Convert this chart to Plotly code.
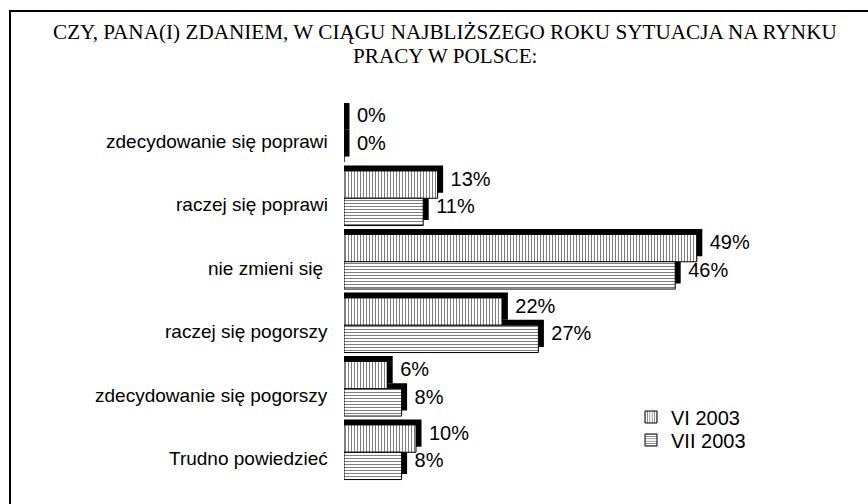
import plotly.graph_objects as go

# ---- data ----
categories = ["zdecydowanie się poprawi", "raczej się poprawi", "nie zmieni się\u00a0",
              "raczej się pogorszy", "zdecydowanie się pogorszy", "Trudno powiedzieć"]
vi_2003 = [0, 13, 49, 22, 6, 10]
vii_2003 = [0, 11, 46, 27, 8, 8]
series_names = ["VI 2003", "VII 2003"]
title_lines = ["CZY, PANA(I) ZDANIEM, W CIĄGU NAJBLIŻSZEGO ROKU SYTUACJA NA RYNKU",
               "PRACY W POLSCE:"]

# ---- geometry (pixels) ----
W, H = 868, 504
L, R, T, B = 344, 44, 103, 20
plot_w = W - L - R
plot_h = H - T - B
px_per_pct = 7.2
xmax = plot_w / px_per_pct
n = len(categories)
px_per_cat = plot_h / n


def px_x(px):
    return (px - L) / plot_w


def px_y(py):
    return (H - B - py) / plot_h


bar_w = 0.43
off = 0.215
dx = 5.5 / px_per_pct
dy = 5.5 / px_per_cat

SANS = "Liberation Sans, Arial, sans-serif"
SERIF = "Liberation Serif, Times New Roman, serif"

pos = list(range(n))
series = [vi_2003, vii_2003]
offsets = [-off, off]
shapes_pat = ["|", "-"]
legend_ids = ["legend", "legend2"]

fig = go.Figure()

# 3D shadows
for vals, o in zip(series, offsets):
    fig.add_trace(go.Bar(
        orientation="h",
        y=[p + o - dy for p in pos],
        x=[v + dx for v in vals],
        base=0,
        width=bar_w,
        marker=dict(color="black", line=dict(width=0)),
        showlegend=False,
        hoverinfo="skip",
    ))

# faces
for vals, o, name, pat, lg in zip(series, offsets, series_names, shapes_pat, legend_ids):
    fig.add_trace(go.Bar(
        orientation="h",
        y=[p + o for p in pos],
        x=vals,
        width=bar_w,
        name=name,
        legend=lg,
        marker=dict(color="white", line=dict(color="black", width=1),
                    pattern=dict(shape=pat, fgcolor="black", bgcolor="white",
                                 size=3, solidity=0.35)),
    ))

# value labels
for vals, o in zip(series, offsets):
    fig.add_trace(go.Scatter(
        x=[v + 1.8 for v in vals],
        y=[p + o - 0.06 for p in pos],
        mode="text",
        text=[f"{v}%" for v in vals],
        textposition="middle right",
        textfont=dict(family=SANS, size=20, color="black"),
        showlegend=False,
        hoverinfo="skip",
    ))

annotations = []
for p, c in zip(pos, categories):
    annotations.append(dict(
        x=0, xref="paper", y=p + 0.1, yref="y", text=c, showarrow=False,
        xanchor="right", yanchor="middle", xshift=-14,
        font=dict(family=SANS, size=19, color="black"),
    ))
for line, cy in zip(title_lines, [32, 56]):
    annotations.append(dict(
        x=px_x(445), xref="paper", y=px_y(cy), yref="paper", text=line,
        showarrow=False, xanchor="center", yanchor="middle",
        font=dict(family=SERIF, size=21.2, color="black"),
    ))

legend_style = dict(xanchor="left", yanchor="middle",
                    font=dict(family=SANS, size=20, color="black"),
                    bgcolor="rgba(0,0,0,0)")

fig.update_layout(
    width=W, height=H,
    margin=dict(l=L, r=R, t=T, b=B, pad=0),
    barmode="overlay",
    paper_bgcolor="white", plot_bgcolor="white",
    xaxis=dict(range=[0, xmax], visible=False, fixedrange=True),
    yaxis=dict(range=[n - 0.5, -0.5], visible=False, fixedrange=True),
    showlegend=True,
    legend=dict(x=px_x(631), y=px_y(417), **legend_style),
    legend2=dict(x=px_x(631), y=px_y(440), **legend_style),
    annotations=annotations,
    shapes=[dict(type="rect", xref="paper", yref="paper",
                 x0=px_x(10), x1=px_x(W + 20), y0=px_y(11), y1=px_y(H + 20),
                 line=dict(color="black", width=2), fillcolor="rgba(0,0,0,0)",
                 layer="above")],
)

fig.write_html("out.html")
